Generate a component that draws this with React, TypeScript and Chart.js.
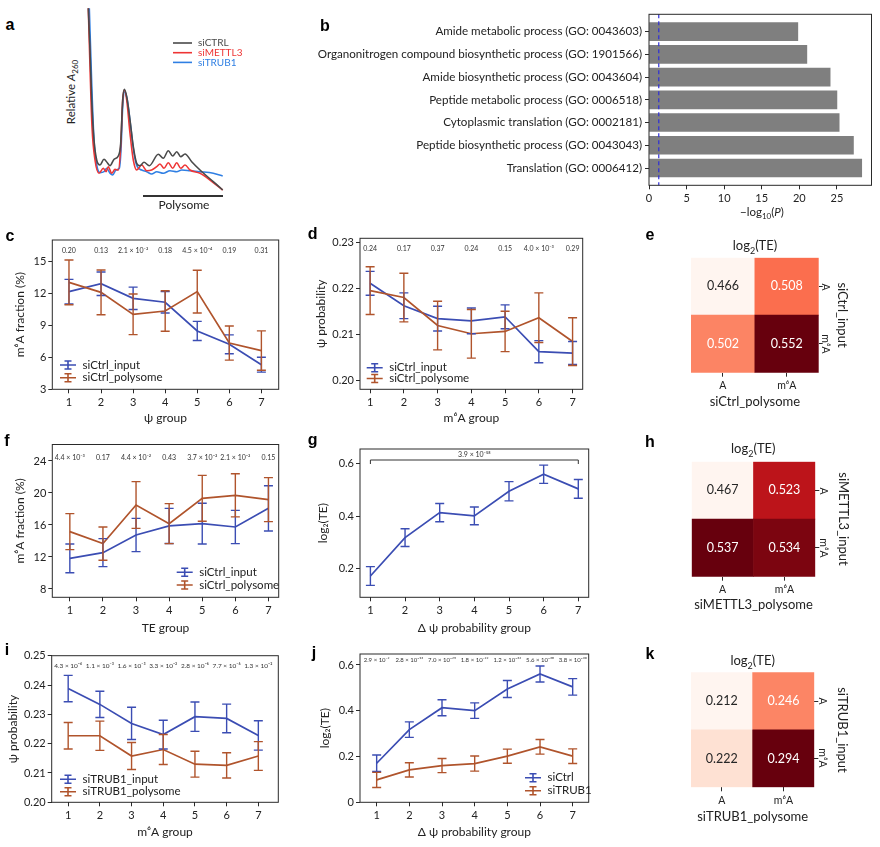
import React, { useEffect, useRef } from "react";
import { Chart, registerables } from "chart.js";

Chart.register(...registerables);

const FONT = "Lato, 'DejaVu Sans', sans-serif";
Chart.defaults.font.family = FONT;
Chart.defaults.color = "#222";

const BLUE = "#3b4db3";
const BROWN = "#b0542c";
const GROUPS = [1, 2, 3, 4, 5, 6, 7];

// ---------- a: polysome profiles (fraction position vs relative A260) ----------
const profileCtrlX = [88.3, 90, 91.7, 94, 96.7, 100, 104, 107.3, 110, 114, 118.3, 120.7, 122.7, 124.3, 126.7, 130, 133.3, 136.7, 140, 144, 149.3, 158.3, 163.3, 168.3, 172.7, 176.7, 180.7, 185, 191.7, 200, 213.3, 222.7];
const profileCtrlY = [191.7, 150, 100, 60, 40, 35, 40.7, 37.3, 34.3, 40.7, 44, 56.7, 100, 110.7, 103.3, 80, 53.3, 36.7, 34.3, 37.7, 34.3, 45.7, 41.7, 49.3, 44, 48.3, 43.3, 46, 38.3, 30, 18.3, 10];
const profileMettl3X = [88.3, 90, 92, 95, 99, 103.3, 106, 108.3, 111.7, 115, 118.3, 120.7, 122.7, 124.3, 126.7, 130, 133.3, 136.7, 141.7, 146.7, 151.7, 156.7, 160, 164, 168.3, 172.7, 176.7, 180.7, 185, 190, 200, 210, 222.7];
const profileMettl3Y = [191.7, 133.3, 73.3, 40, 26.7, 31.7, 28.3, 33.3, 26.7, 30.7, 30, 53.3, 100, 110, 100, 66.7, 40, 30, 35, 29.3, 30, 33.3, 36, 31.7, 37.3, 31.7, 37.3, 31.7, 35, 30, 26.7, 20, 10];
const profileTrub1X = [89.3, 91.7, 94, 96.7, 100, 104, 106.7, 110, 112.7, 116, 119.3, 121, 122.7, 124.7, 127.3, 130.7, 134, 137.3, 141.7, 146.7, 151.7, 156.7, 163.3, 170, 176.7, 181.7, 190, 200, 213.3, 222.7];
const profileTrub1Y = [191.7, 116.7, 60, 35, 27.3, 28.3, 31.7, 26.7, 25, 30, 31.7, 50, 93.3, 108.3, 100, 73.3, 46.7, 33.3, 30, 28.3, 26, 28.3, 26.7, 29.3, 28.3, 30, 29.3, 28.3, 26.7, 24];

// ---------- b: GO enrichment ----------
const GO_TERMS = [
  "Amide metabolic process (GO: 0043603)",
  "Organonitrogen compound biosynthetic process (GO: 1901566)",
  "Amide biosynthetic process (GO: 0043604)",
  "Peptide metabolic process (GO: 0006518)",
  "Cytoplasmic translation (GO: 0002181)",
  "Peptide biosynthetic process (GO: 0043043)",
  "Translation (GO: 0006412)",
];
const GO_NEG_LOG10P = [19.8, 21.0, 24.1, 25.0, 25.3, 27.2, 28.3];
const GO_TICKS = [0, 5, 10, 15, 20, 25];
const GO_THRESHOLD = 1.3;

// ---------- c ----------
const cInput = [12.16, 12.9, 11.53, 11.16, 8.47, 7.22, 5.31];
const cInputErr = [1.15, 1.1, 1.05, 1.0, 0.9, 0.88, 0.7];
const cPoly = [13.03, 12.09, 10.03, 10.34, 12.16, 7.34, 6.63];
const cPolyErr = [2.1, 2.1, 1.9, 1.9, 2.0, 1.6, 1.85];
const cPvals = ["0.20", "0.13", "2.1 × 10⁻²", "0.18", "4.5 × 10⁻⁴", "0.19", "0.31"];
const cYTicks = [3, 6, 9, 12, 15];

// ---------- d ----------
const dInput = [0.2211, 0.2162, 0.2134, 0.2129, 0.2138, 0.2062, 0.2059];
const dInputErr = [0.0026, 0.0028, 0.0027, 0.0028, 0.0026, 0.0024, 0.0025];
const dPoly = [0.2195, 0.218, 0.2119, 0.2101, 0.2106, 0.2136, 0.2084];
const dPolyErr = [0.0052, 0.0053, 0.0053, 0.0053, 0.0044, 0.0054, 0.0052];
const dPvals = ["0.24", "0.17", "0.37", "0.24", "0.15", "4.0 × 10⁻³", "0.29"];
const dYTicks = [0.2, 0.21, 0.22, 0.23];

// ---------- e / h / k heatmaps ----------
const HEAT_COLS = ["A", "m⁶A"];
const eRowA = [0.466, 0.508];
const eRowM = [0.502, 0.552];
const hRowA = [0.467, 0.523];
const hRowM = [0.537, 0.534];
const kRowA = [0.212, 0.246];
const kRowM = [0.222, 0.294];

// ---------- f ----------
const fInput = [11.83, 12.54, 14.75, 15.88, 16.17, 15.75, 18.08];
const fInputErr = [1.8, 1.75, 2.08, 2.2, 2.55, 2.08, 2.83];
const fPoly = [15.17, 13.67, 18.5, 16.17, 19.33, 19.71, 19.17];
const fPolyErr = [2.25, 2.08, 2.92, 2.5, 2.87, 2.7, 2.75];
const fPvals = ["4.4 × 10⁻³", "0.17", "4.4 × 10⁻²", "0.43", "3.7 × 10⁻²", "2.1 × 10⁻²", "0.15"];
const fYTicks = [8, 12, 16, 20, 24];

// ---------- g / j ----------
const teCtrl = [0.1706, 0.3176, 0.4134, 0.4006, 0.4952, 0.5604, 0.5042];
const teCtrlErr = [0.036, 0.034, 0.035, 0.034, 0.037, 0.035, 0.036];
const teTrub1 = [0.0978, 0.1416, 0.1606, 0.1694, 0.2015, 0.2424, 0.2015];
const teTrub1Err = [0.033, 0.031, 0.031, 0.033, 0.031, 0.032, 0.032];
const gPval = "3.9 × 10⁻⁵⁸";
const gYTicks = [0.2, 0.4, 0.6];
const jPvals = ["2.9 × 10⁻²", "2.8 × 10⁻¹³", "7.0 × 10⁻²⁵", "1.8 × 10⁻²²", "1.2 × 10⁻³²", "5.6 × 10⁻³⁸", "3.8 × 10⁻³⁰"];
const jYTicks = [0, 0.2, 0.4, 0.6];

// ---------- i ----------
const iInput = [0.2388, 0.2334, 0.2269, 0.2231, 0.2292, 0.2286, 0.2228];
const iInputErr = [0.0045, 0.0045, 0.0055, 0.0049, 0.005, 0.0049, 0.005];
const iPoly = [0.2227, 0.2227, 0.2158, 0.218, 0.213, 0.2126, 0.2158];
const iPolyErr = [0.0045, 0.005, 0.0046, 0.0051, 0.0044, 0.0043, 0.0049];
const iPvals = ["4.3 × 10⁻⁶", "1.1 × 10⁻³", "1.6 × 10⁻³", "3.3 × 10⁻²", "2.8 × 10⁻⁶", "7.7 × 10⁻⁶", "1.3 × 10⁻²"];
const iYTicks = [0.2, 0.21, 0.22, 0.23, 0.24, 0.25];

// ---------- colormap (matplotlib Reds) ----------
const REDS = [[255, 245, 240], [254, 224, 210], [252, 187, 161], [252, 146, 114], [251, 106, 74], [239, 59, 44], [203, 24, 29], [165, 15, 21], [103, 0, 13]];
function reds(t: number) {
  const c = Math.max(0, Math.min(1, t)) * (REDS.length - 1);
  const i = Math.min(REDS.length - 2, Math.floor(c));
  const f = c - i;
  const a = REDS[i], b = REDS[i + 1];
  return [0, 1, 2].map((k) => Math.round(a[k] + (b[k] - a[k]) * f));
}
function lum(rgb: number[]) {
  const lin = rgb.map((v) => {
    const s = v / 255;
    return s <= 0.03928 ? s / 12.92 : Math.pow((s + 0.055) / 1.055, 2.4);
  });
  return 0.2126 * lin[0] + 0.7152 * lin[1] + 0.0722 * lin[2];
}

// ---------- plugins ----------
const framePlugin = {
  id: "frame",
  afterDraw(chart: any, _a: any, o: any) {
    if (!o || !o.show) return;
    const { left, top, right, bottom } = chart.chartArea;
    const ctx = chart.ctx;
    ctx.save();
    ctx.strokeStyle = "#2a2a2a";
    ctx.lineWidth = 1;
    ctx.strokeRect(left, top, right - left, bottom - top);
    ctx.restore();
  },
};

const errorBarPlugin = {
  id: "errbars",
  afterDatasetsDraw(chart: any) {
    const ctx = chart.ctx;
    const ys = chart.scales.y;
    chart.data.datasets.forEach((ds: any, di: number) => {
      if (!ds.errors) return;
      const meta = chart.getDatasetMeta(di);
      ctx.save();
      ctx.strokeStyle = ds.borderColor;
      ctx.lineWidth = 1.4;
      meta.data.forEach((el: any, i: number) => {
        const v = ds.data[i].y;
        const e = ds.errors[i];
        const x = el.x;
        const y1 = ys.getPixelForValue(v + e);
        const y2 = ys.getPixelForValue(v - e);
        ctx.beginPath();
        ctx.moveTo(x, y1); ctx.lineTo(x, y2);
        ctx.moveTo(x - 4.5, y1); ctx.lineTo(x + 4.5, y1);
        ctx.moveTo(x - 4.5, y2); ctx.lineTo(x + 4.5, y2);
        ctx.stroke();
      });
      ctx.restore();
    });
  },
};

const pvalPlugin = {
  id: "pvals",
  afterDraw(chart: any, _a: any, o: any) {
    if (!o || !o.labels) return;
    const ctx = chart.ctx;
    const xs = chart.scales.x;
    ctx.save();
    ctx.font = `${o.size || 7}px ${FONT}`;
    ctx.fillStyle = "#333";
    ctx.textAlign = "center";
    ctx.textBaseline = "middle";
    o.labels.forEach((t: string, i: number) => {
      ctx.fillText(t, xs.getPixelForValue(GROUPS[i]), chart.chartArea.top + o.dy);
    });
    ctx.restore();
  },
};

const keyLegendPlugin = {
  id: "keyLegend",
  afterDraw(chart: any, _a: any, o: any) {
    if (!o || !o.items) return;
    const ctx = chart.ctx;
    ctx.save();
    ctx.font = `${o.size || 11}px ${FONT}`;
    ctx.textAlign = "left";
    ctx.textBaseline = "middle";
    o.items.forEach((it: any, k: number) => {
      const y = o.y + k * o.rowH;
      ctx.strokeStyle = it.color;
      ctx.lineWidth = 1.6;
      ctx.beginPath();
      ctx.moveTo(o.x, y);
      ctx.lineTo(o.x + o.len, y);
      if (o.errbar) {
        const cx = o.x + o.len / 2;
        ctx.moveTo(cx, y - 4); ctx.lineTo(cx, y + 4);
        ctx.moveTo(cx - 3.5, y - 4); ctx.lineTo(cx + 3.5, y - 4);
        ctx.moveTo(cx - 3.5, y + 4); ctx.lineTo(cx + 3.5, y + 4);
      }
      ctx.stroke();
      ctx.fillStyle = it.textColor || "#222";
      ctx.fillText(it.label, o.x + o.len + o.gap, y);
    });
    ctx.restore();
  },
};

const bracketPlugin = {
  id: "bracket",
  afterDraw(chart: any, _a: any, o: any) {
    if (!o || o.from == null) return;
    const ctx = chart.ctx;
    const xs = chart.scales.x;
    const top = chart.chartArea.top;
    const x1 = xs.getPixelForValue(o.from);
    const x2 = xs.getPixelForValue(o.to);
    ctx.save();
    ctx.strokeStyle = "#333";
    ctx.lineWidth = 1;
    ctx.beginPath();
    ctx.moveTo(x1, top + o.dy + o.tick);
    ctx.lineTo(x1, top + o.dy);
    ctx.lineTo(x2, top + o.dy);
    ctx.lineTo(x2, top + o.dy + o.tick);
    ctx.stroke();
    ctx.font = `${o.size || 7}px ${FONT}`;
    ctx.fillStyle = "#333";
    ctx.textAlign = "center";
    ctx.textBaseline = "middle";
    ctx.fillText(o.label, (x1 + x2) / 2, top + o.labelDy);
    ctx.restore();
  },
};

const vlinePlugin = {
  id: "vline",
  afterDatasetsDraw(chart: any, _a: any, o: any) {
    if (!o || o.x == null) return;
    const ctx = chart.ctx;
    const x = chart.scales.x.getPixelForValue(o.x);
    const { top, bottom } = chart.chartArea;
    ctx.save();
    ctx.strokeStyle = o.color;
    ctx.lineWidth = 1.2;
    ctx.setLineDash([4, 3]);
    ctx.beginPath();
    ctx.moveTo(x, top);
    ctx.lineTo(x, bottom);
    ctx.stroke();
    ctx.restore();
  },
};

const cellTextPlugin = {
  id: "cellText",
  afterDatasetsDraw(chart: any, _a: any, o: any) {
    const ctx = chart.ctx;
    ctx.save();
    ctx.font = `${(o && o.size) || 12}px ${FONT}`;
    ctx.textAlign = "center";
    ctx.textBaseline = "middle";
    chart.data.datasets.forEach((ds: any, di: number) => {
      const meta = chart.getDatasetMeta(di);
      meta.data.forEach((el: any, i: number) => {
        ctx.fillStyle = lum(ds.rgb[i]) > 0.408 ? "#262626" : "#ffffff";
        ctx.fillText(ds.values[i].toFixed(3), el.x, (el.y + el.base) / 2);
      });
    });
    ctx.restore();
  },
};

// ---------- config builders ----------
const TICK_FONT = { size: 11 };
const gridOpts = { drawOnChartArea: false, drawTicks: true, tickLength: 4, color: "#2a2a2a", lineWidth: 1 };

function lineConfig(p: any) {
  const [cl, ct, cr, cb] = p.canvas;
  const [fl, ft, fr, fb] = p.frame;
  const lh = 12 * 1.2;
  return {
    type: "line",
    data: {
      datasets: p.series.map((s: any, k: number) => ({
        label: s.label,
        data: GROUPS.map((g, i) => ({ x: g, y: s.values[i] })),
        errors: s.errors,
        borderColor: s.color,
        backgroundColor: s.color,
        borderWidth: 1.7,
        pointRadius: 0,
        tension: 0,
        fill: false,
        order: p.series.length - k,
      })),
    },
    options: {
      responsive: false,
      animation: false,
      layout: { padding: { left: 0, top: ft - ct, right: cr - fr, bottom: 0 } },
      scales: {
        x: {
          type: "linear",
          min: p.xMin,
          max: p.xMax,
          afterBuildTicks: (sc: any) => { sc.ticks = GROUPS.map((v) => ({ value: v })); },
          afterFit: (sc: any) => { sc.height = cb - fb; },
          ticks: { font: TICK_FONT, color: "#222", padding: 3, maxRotation: 0, autoSkip: false },
          grid: gridOpts,
          border: { display: false },
          title: { display: true, text: p.xTitle, font: { size: 12 }, color: "#222", padding: { top: 0, bottom: cb - p.xTitleY - lh / 2 } },
        },
        y: {
          type: "linear",
          min: p.yMin,
          max: p.yMax,
          afterBuildTicks: (sc: any) => { sc.ticks = p.yTicks.map((v: number) => ({ value: v })); },
          afterFit: (sc: any) => { sc.width = fl - cl; },
          ticks: { font: TICK_FONT, color: "#222", padding: 2, autoSkip: false, callback: p.yFmt },
          grid: gridOpts,
          border: { display: false },
          title: { display: true, text: p.yTitle, font: { size: 12 }, color: "#222", padding: { top: p.yTitleX - cl - lh / 2, bottom: 0 } },
        },
      },
      plugins: {
        legend: { display: false },
        tooltip: { enabled: false },
        frame: { show: true },
        pvals: p.pvals ? { labels: p.pvals, dy: p.pvalY - ft, size: p.pvalSize || 7 } : {},
        keyLegend: p.legend
          ? { x: p.legend.x - cl, y: p.legend.y - ct, rowH: p.legend.rowH, len: 16, gap: 6.5, size: 11.5, errbar: true, items: p.series.map((s: any) => ({ label: s.label, color: s.color })) }
          : {},
        bracket: p.bracket ? { ...p.bracket, dy: p.bracket.y - ft, labelDy: p.bracket.labelY - ft } : {},
      },
    },
    plugins: [framePlugin, errorBarPlugin, pvalPlugin, keyLegendPlugin, bracketPlugin],
  };
}

function heatConfig(p: any) {
  const [cl, ct, cr, cb] = p.canvas;
  const [fl, ft, fr, fb] = p.area;
  const all = [...p.rowA, ...p.rowM];
  const vmin = Math.min(...all);
  const vmax = Math.max(...all);
  const rgbOf = (v: number) => reds((v - vmin) / (vmax - vmin));
  const css = (c: number[]) => `rgb(${c[0]},${c[1]},${c[2]})`;
  const rowDs = (label: string, row: number[]) => {
    const rgb = row.map(rgbOf);
    return { label, data: row.map(() => 1), values: row, rgb, backgroundColor: rgb.map(css), borderWidth: 0 };
  };
  return {
    type: "bar",
    data: { labels: HEAT_COLS, datasets: [rowDs("m⁶A", p.rowM), rowDs("A", p.rowA)] },
    options: {
      responsive: false,
      animation: false,
      layout: { padding: { left: fl - cl, top: ft - ct, right: 0, bottom: 0 } },
      datasets: { bar: { categoryPercentage: 1, barPercentage: 1 } },
      scales: {
        x: {
          stacked: true,
          afterFit: (sc: any) => { sc.height = cb - fb; },
          ticks: { font: { size: 10.5 }, color: "#222", padding: 3 },
          grid: { ...gridOpts, offset: false },
          border: { display: false },
          title: { display: true, text: p.xTitle, font: { size: 13 }, color: "#222", padding: { top: 0, bottom: cb - p.xTitleY - 7.8 } },
        },
        y: {
          stacked: true,
          position: "right",
          min: 0,
          max: 2,
          afterBuildTicks: (sc: any) => { sc.ticks = [{ value: 0.5 }, { value: 1.5 }]; },
          afterFit: (sc: any) => { sc.width = cr - fr; },
          ticks: { display: false },
          grid: gridOpts,
          border: { display: false },
        },
      },
      plugins: { legend: { display: false }, tooltip: { enabled: false }, cellText: { size: 12.5 } },
    },
    plugins: [cellTextPlugin],
  };
}

const A_CANVAS = [85, 8, 260, 200];

function profileConfig() {
  const mk = (label: string, xs: number[], ys: number[], color: string) => ({
    label,
    data: xs.map((x, i) => ({ x, y: ys[i] })),
    borderColor: color,
    backgroundColor: color,
    borderWidth: 1.6,
    pointRadius: 0,
    cubicInterpolationMode: "monotone",
    fill: false,
  });
  const series = [
    { label: "siCTRL", color: "#4a4a4a" },
    { label: "siMETTL3", color: "#ee3535" },
    { label: "siTRUB1", color: "#2f7fe3" },
  ];
  return {
    type: "line",
    data: {
      datasets: [
        mk("siCTRL", profileCtrlX, profileCtrlY, series[0].color),
        mk("siMETTL3", profileMettl3X, profileMettl3Y, series[1].color),
        mk("siTRUB1", profileTrub1X, profileTrub1Y, series[2].color),
      ],
    },
    options: {
      responsive: false,
      animation: false,
      layout: { padding: 0 },
      scales: {
        x: { type: "linear", display: false, min: A_CANVAS[0], max: A_CANVAS[2] },
        y: { type: "linear", display: false, min: 0, max: 200 - A_CANVAS[1] },
      },
      plugins: {
        legend: { display: false },
        tooltip: { enabled: false },
        keyLegend: { x: 173 - A_CANVAS[0], y: 43 - A_CANVAS[1], rowH: 9.7, len: 19, gap: 6, size: 10, errbar: false, items: series.map((s) => ({ label: s.label, color: s.color, textColor: s.color })) },
      },
    },
    plugins: [keyLegendPlugin],
  };
}

function goConfig() {
  const [cl, ct, cr, cb] = [300, 4, 880, 225];
  const [fl, ft, fr, fb] = [649, 14.3, 871.5, 185.3];
  return {
    type: "bar",
    data: {
      datasets: [
        {
          label: "−log10(P)",
          data: GO_NEG_LOG10P.map((v, i) => ({ x: v, y: i })),
          backgroundColor: "#7f7f7f",
          borderWidth: 0,
          barThickness: 18,
        },
      ],
    },
    options: {
      indexAxis: "y",
      responsive: false,
      animation: false,
      layout: { padding: { left: 0, top: ft - ct, right: cr - fr, bottom: 0 } },
      scales: {
        y: {
          type: "linear",
          reverse: true,
          min: -0.76,
          max: 6.76,
          offset: false,
          afterBuildTicks: (sc: any) => { sc.ticks = GO_TERMS.map((_, i) => ({ value: i })); },
          afterFit: (sc: any) => { sc.width = fl - cl; },
          ticks: { font: { size: 11.6 }, color: "#222", padding: 3, autoSkip: false, callback: (v: number) => GO_TERMS[v] },
          grid: { ...gridOpts, offset: false },
          border: { display: false },
        },
        x: {
          type: "linear",
          min: 0,
          max: 29.6,
          afterBuildTicks: (sc: any) => { sc.ticks = GO_TICKS.map((v) => ({ value: v })); },
          afterFit: (sc: any) => { sc.height = cb - fb; },
          ticks: { font: { size: 11 }, color: "#222", padding: 3, autoSkip: false },
          grid: gridOpts,
          border: { display: false },
        },
      },
      plugins: {
        legend: { display: false },
        tooltip: { enabled: false },
        frame: { show: true },
        vline: { x: GO_THRESHOLD, color: "#3030d8" },
      },
    },
    plugins: [framePlugin, vlinePlugin],
  };
}

const fmt2 = (v: number) => v.toFixed(2);
const fmtInt = (v: number) => String(v);
const fmt1 = (v: number) => (v === 0 ? "0" : v.toFixed(1));

const PANELS: any[] = [
  {
    key: "c",
    canvas: [0, 230, 292, 430],
    make: () =>
      lineConfig({
        canvas: [0, 230, 292, 430], frame: [52.3, 240, 278.7, 389.3],
        xMin: 0.48, xMax: 7.54, yMin: 3, yMax: 17, yTicks: cYTicks, yFmt: fmtInt,
        xTitle: "ψ group", yTitle: "m⁶A fraction (%)", yTitleX: 20, xTitleY: 417.7,
        series: [
          { label: "siCtrl_input", color: BLUE, values: cInput, errors: cInputErr },
          { label: "siCtrl_polysome", color: BROWN, values: cPoly, errors: cPolyErr },
        ],
        pvals: cPvals, pvalY: 250.7,
        legend: { x: 60, y: 365, rowH: 12.7 },
      }),
  },
  {
    key: "d",
    canvas: [300, 228, 600, 430],
    make: () =>
      lineConfig({
        canvas: [300, 228, 600, 430], frame: [360, 238.3, 582.7, 389.3],
        xMin: 0.7, xMax: 7.3, yMin: 0.198, yMax: 0.2309, yTicks: dYTicks, yFmt: fmt2,
        xTitle: "m⁶A group", yTitle: "ψ probability", yTitleX: 320.7, xTitleY: 417.7,
        series: [
          { label: "siCtrl_input", color: BLUE, values: dInput, errors: dInputErr },
          { label: "siCtrl_polysome", color: BROWN, values: dPoly, errors: dPolyErr },
        ],
        pvals: dPvals, pvalY: 248.3,
        legend: { x: 366.7, y: 367.7, rowH: 10.8 },
      }),
  },
  {
    key: "f",
    canvas: [0, 434, 292, 645],
    make: () =>
      lineConfig({
        canvas: [0, 434, 292, 645], frame: [52.3, 444.5, 278.7, 597.3],
        xMin: 0.47, xMax: 7.31, yMin: 6.96, yMax: 26.06, yTicks: fYTicks, yFmt: fmtInt,
        xTitle: "TE group", yTitle: "m⁶A fraction (%)", yTitleX: 20, xTitleY: 628,
        series: [
          { label: "siCtrl_input", color: BLUE, values: fInput, errors: fInputErr },
          { label: "siCtrl_polysome", color: BROWN, values: fPoly, errors: fPolyErr },
        ],
        pvals: fPvals, pvalY: 457.7,
        legend: { x: 176.7, y: 572.3, rowH: 12.7 },
      }),
  },
  {
    key: "g",
    canvas: [300, 438, 600, 645],
    make: () =>
      lineConfig({
        canvas: [300, 438, 600, 645], frame: [360, 449, 588.7, 597.3],
        xMin: 0.7, xMax: 7.3, yMin: 0.089, yMax: 0.657, yTicks: gYTicks, yFmt: fmt1,
        xTitle: "Δ ψ probability group", yTitle: "log₂(TE)", yTitleX: 323.3, xTitleY: 628,
        series: [{ label: "siCtrl", color: BLUE, values: teCtrl, errors: teCtrlErr }],
        bracket: { from: 1, to: 7, y: 460, tick: 4, label: gPval, labelY: 455, size: 7 },
      }),
  },
  {
    key: "i",
    canvas: [0, 645, 292, 847],
    make: () =>
      lineConfig({
        canvas: [0, 645, 292, 847], frame: [51.7, 655.7, 278.3, 802.3],
        xMin: 0.48, xMax: 7.63, yMin: 0.2, yMax: 0.25, yTicks: iYTicks, yFmt: fmt2,
        xTitle: "m⁶A group", yTitle: "ψ probability", yTitleX: 13.3, xTitleY: 831.7,
        series: [
          { label: "siTRUB1_input", color: BLUE, values: iInput, errors: iInputErr },
          { label: "siTRUB1_polysome", color: BROWN, values: iPoly, errors: iPolyErr },
        ],
        pvals: iPvals, pvalY: 665.7, pvalSize: 6.5,
        legend: { x: 60, y: 779.3, rowH: 12.4 },
      }),
  },
  {
    key: "j",
    canvas: [300, 645, 600, 847],
    make: () =>
      lineConfig({
        canvas: [300, 645, 600, 847], frame: [360, 654, 588.7, 802.3],
        xMin: 0.49, xMax: 7.49, yMin: 0, yMax: 0.648, yTicks: jYTicks, yFmt: fmt1,
        xTitle: "Δ ψ probability group", yTitle: "log₂(TE)", yTitleX: 325, xTitleY: 831.7,
        series: [
          { label: "siCtrl", color: BLUE, values: teCtrl, errors: teCtrlErr },
          { label: "siTRUB1", color: BROWN, values: teTrub1, errors: teTrub1Err },
        ],
        pvals: jPvals, pvalY: 660, pvalSize: 6,
        legend: { x: 525, y: 777.7, rowH: 13 },
      }),
  },
  {
    key: "e",
    canvas: [680, 250, 832, 415],
    make: () => heatConfig({ canvas: [680, 250, 832, 415], area: [691, 257.7, 818.7, 372.7], rowA: eRowA, rowM: eRowM, xTitle: "siCtrl_polysome", xTitleY: 401.7 }),
  },
  {
    key: "h",
    canvas: [680, 455, 832, 618],
    make: () => heatConfig({ canvas: [680, 455, 832, 618], area: [691.7, 461.7, 815.3, 576.7], rowA: hRowA, rowM: hRowM, xTitle: "siMETTL3_polysome", xTitleY: 605 }),
  },
  {
    key: "k",
    canvas: [680, 665, 832, 830],
    make: () => heatConfig({ canvas: [680, 665, 832, 830], area: [691, 672.3, 814.3, 787.3], rowA: kRowA, rowM: kRowM, xTitle: "siTRUB1_polysome", xTitleY: 816.7 }),
  },
  { key: "a", canvas: A_CANVAS, make: profileConfig },
  { key: "b", canvas: [300, 4, 880, 225], make: goConfig },
];

function ChartBox({ box, make }: { box: number[]; make: () => any }) {
  const ref = useRef<HTMLCanvasElement | null>(null);
  useEffect(() => {
    if (!ref.current) return;
    const chart = new Chart(ref.current, make());
    return () => chart.destroy();
  }, []);
  const [l, t, r, b] = box;
  return (
    <canvas
      ref={ref}
      width={r - l}
      height={b - t}
      style={{ position: "absolute", left: l, top: t, width: r - l, height: b - t }}
    />
  );
}

function Txt({ x, y, rot = 0, size = 12, bold = false, family = FONT, color = "#222", children }: any) {
  return (
    <div
      style={{
        position: "absolute",
        left: x,
        top: y,
        transform: `translate(-50%, -50%) rotate(${rot}deg)`,
        fontSize: size,
        fontWeight: bold ? 700 : 400,
        fontFamily: family,
        color,
        whiteSpace: "nowrap",
        lineHeight: 1,
      }}
    >
      {children}
    </div>
  );
}

const LETTER_FONT = "'Liberation Sans', Arial, sans-serif";
const LETTERS: [string, number, number][] = [
  ["a", 10, 25], ["b", 325, 26], ["c", 10, 236], ["d", 312.7, 234],
  ["e", 650, 235], ["f", 7, 441], ["g", 312.7, 440], ["h", 650, 442],
  ["i", 7, 650], ["j", 314, 653], ["k", 650, 654],
];

export default function App() {
  return (
    <div style={{ position: "absolute", left: 0, top: 0, width: 880, height: 847, background: "#fff", fontFamily: FONT, overflow: "hidden" }}>
      {PANELS.map((p) => (
        <ChartBox key={p.key} box={p.canvas} make={p.make} />
      ))}

      {LETTERS.map(([t, x, y]) => (
        <Txt key={t} x={x} y={y} size={16} bold family={LETTER_FONT} color="#000">{t}</Txt>
      ))}

      {/* panel a decorations */}
      <Txt x={72} y={92} rot={-90} size={11.5}>
        Relative <i>A</i><sub style={{ fontSize: 8 }}>260</sub>
      </Txt>
      <div style={{ position: "absolute", left: 143, top: 195, width: 80, height: 1.5, background: "#333" }} />
      <Txt x={184} y={205} size={12}>Polysome</Txt>

      {/* panel b x title */}
      <Txt x={762} y={213} size={11.5}>
        −log<sub style={{ fontSize: 8 }}>10</sub>(<i>P</i>)
      </Txt>

      {/* heatmap e */}
      <Txt x={755} y={246.7} size={13}>log<sub style={{ fontSize: 9 }}>2</sub>(TE)</Txt>
      <Txt x={825.5} y={286.5} rot={90} size={10.5}>A</Txt>
      <Txt x={825.5} y={344} rot={90} size={10.5}>m⁶A</Txt>
      <Txt x={842} y={315.2} rot={90} size={13}>siCtrl_input</Txt>

      {/* heatmap h */}
      <Txt x={753.3} y={450} size={13}>log<sub style={{ fontSize: 9 }}>2</sub>(TE)</Txt>
      <Txt x={823.5} y={490.5} rot={90} size={10.5}>A</Txt>
      <Txt x={823.5} y={548} rot={90} size={10.5}>m⁶A</Txt>
      <Txt x={843.3} y={519} rot={90} size={13}>siMETTL3_input</Txt>

      {/* heatmap k */}
      <Txt x={823} y={701} rot={90} size={10.5}>A</Txt>
      <Txt x={823} y={758} rot={90} size={10.5}>m⁶A</Txt>
      <Txt x={752.7} y={661.7} size={13}>log<sub style={{ fontSize: 9 }}>2</sub>(TE)</Txt>
      <Txt x={842} y={730} rot={90} size={13}>siTRUB1_input</Txt>
    </div>
  );
}
